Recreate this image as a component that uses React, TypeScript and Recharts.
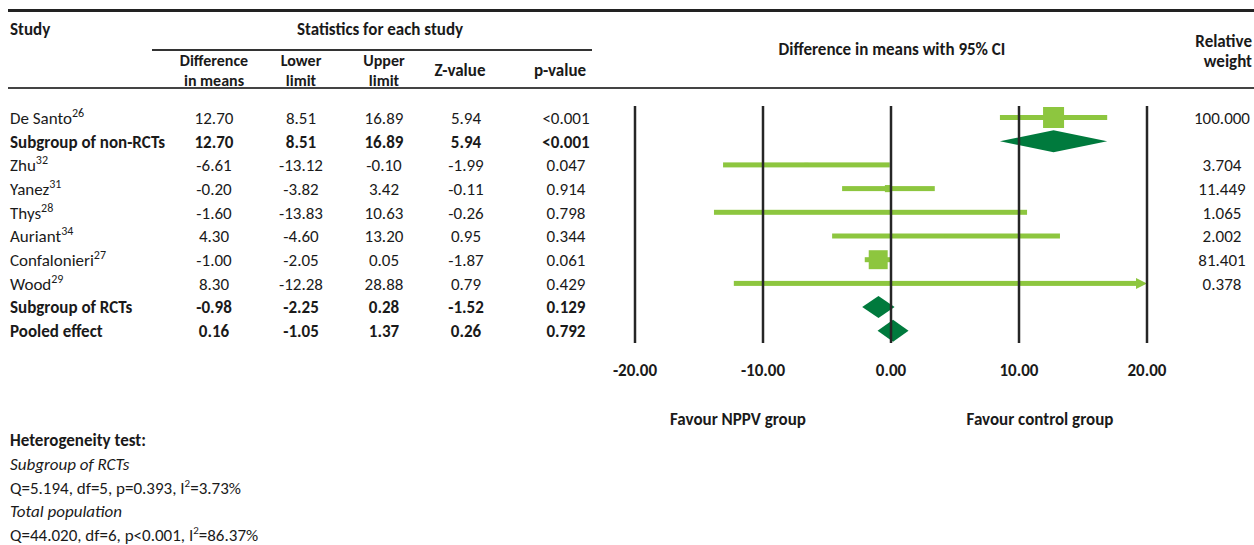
import { ComposedChart, Bar, XAxis, YAxis, ReferenceLine } from 'recharts'

const studies = ['De Santo', 'Subgroup of non-RCTs', 'Zhu', 'Yanez', 'Thys', 'Auriant', 'Confalonieri', 'Wood', 'Subgroup of RCTs', 'Pooled effect']
const refs = ['26', '', '32', '31', '28', '34', '27', '29', '', '']
const isSummary = [false, true, false, false, false, false, false, false, true, true]
const diffs = [12.7, 12.7, -6.61, -0.2, -1.6, 4.3, -1.0, 8.3, -0.98, 0.16]
const lowers = [8.51, 8.51, -13.12, -3.82, -13.83, -4.6, -2.05, -12.28, -2.25, -1.05]
const uppers = [16.89, 16.89, -0.1, 3.42, 10.63, 13.2, 0.05, 28.88, 0.28, 1.37]
const zValues = [5.94, 5.94, -1.99, -0.11, -0.26, 0.95, -1.87, 0.79, -1.52, 0.26]
const pValues = ['<0.001', '<0.001', '0.047', '0.914', '0.798', '0.344', '0.061', '0.429', '0.129', '0.792']
const weights = [100.0, null, 3.704, 11.449, 1.065, 2.002, 81.401, 0.378, null, null]

const xTicks = [-20, -10, 0, 10, 20]
const favourLabels = ['Favour NPPV group', 'Favour control group']

const hetTitle = 'Heterogeneity test:'
const hetGroups = ['Subgroup of RCTs', 'Total population']
const hetStats = [
  { q: '5.194', df: '5', p: 'p=0.393', i2: '3.73%' },
  { q: '44.020', df: '6', p: 'p<0.001', i2: '86.37%' },
]

const axisMin = xTicks[0]
const axisMax = xTicks[xTicks.length - 1]

const data = studies.map((name, i) => ({
  name,
  diff: diffs[i],
  summary: isSummary[i],
  weight: weights[i],
  clipped: uppers[i] > axisMax,
  range: [Math.max(lowers[i], axisMin), Math.min(uppers[i], axisMax)],
}))

const LIGHT = '#8dc63f'
const DARK = '#007a3d'
const INK = '#1a1a1a'
const FONT = "Carlito, Lato, 'Open Sans', sans-serif"
const FS = 17

const colCenters = [214, 301, 384, 466, 566]
const weightCenter = 1222

function ForestMark(props: any) {
  const { x, y, width, height, payload } = props
  const cy = y + height / 2
  const [lo, hi] = payload.range
  const px = x + ((payload.diff - lo) / (hi - lo)) * width
  if (payload.summary) {
    const h = 11
    return (
      <polygon
        points={`${x},${cy} ${px},${cy - h} ${x + width},${cy} ${px},${cy + h}`}
        fill={DARK}
      />
    )
  }
  // square area follows the relative weight
  const size = 21 * Math.sqrt((payload.weight || 0) / 100)
  const end = payload.clipped ? x + width - 11 : x + width
  return (
    <g>
      <rect x={x} y={cy - 2.5} width={end - x} height={5} fill={LIGHT} />
      {payload.clipped && (
        <polygon points={`${end},${cy - 5.5} ${x + width},${cy} ${end},${cy + 5.5}`} fill={LIGHT} />
      )}
      <rect x={px - size / 2} y={cy - size / 2} width={size} height={size} fill={LIGHT} />
    </g>
  )
}

function TableRow(props: any) {
  const { y, payload } = props
  const i = payload.index ?? studies.indexOf(payload.value)
  const bold = isSummary[i] ? 700 : 400
  const cells = [diffs[i].toFixed(2), lowers[i].toFixed(2), uppers[i].toFixed(2), zValues[i].toFixed(2), pValues[i]]
  return (
    <g fontSize={FS} fill={INK} fontWeight={bold}>
      <text x={10} y={y} dy="0.35em" textAnchor="start">
        <tspan>{studies[i]}</tspan>
        {refs[i] && (
          <tspan dy={-7} fontSize={12}>
            {refs[i]}
          </tspan>
        )}
      </text>
      {cells.map((c, k) => (
        <text key={k} x={colCenters[k]} y={y} dy="0.35em" textAnchor="middle">
          {c}
        </text>
      ))}
      {weights[i] != null && (
        <text x={weightCenter} y={y} dy="0.35em" textAnchor="middle">
          {weights[i]!.toFixed(3)}
        </text>
      )}
    </g>
  )
}

const abs = (left: number, top: number, extra: any = {}) => ({
  position: 'absolute' as const,
  left,
  top,
  whiteSpace: 'nowrap' as const,
  lineHeight: '17px',
  ...extra,
})

export default function App() {
  return (
    <div style={{ position: 'absolute', left: 0, top: 0, width: 1254, height: 545, background: '#fff', fontFamily: FONT, fontSize: FS, color: INK }}>
      {/* header rules */}
      <div style={{ position: 'absolute', left: 8, top: 9, width: 1246, height: 3, background: '#222' }} />
      <div style={{ position: 'absolute', left: 152, top: 49, width: 440, height: 1.5, background: '#333' }} />
      <div style={{ position: 'absolute', left: 8, top: 87, width: 1246, height: 2, background: '#444' }} />

      <div style={abs(10, 21, { fontWeight: 700 })}>Study</div>
      <div style={abs(230, 21, { fontWeight: 700, width: 300, textAlign: 'center' })}>Statistics for each study</div>
      {[
        ['Difference', 'in means'],
        ['Lower', 'limit'],
        ['Upper', 'limit'],
        ['Z-value'],
        ['p-value'],
      ].map((lines, k) => (
        <div
          key={k}
          style={abs(colCenters[k] - 60 - (k >= 3 ? 6 : 0), lines.length > 1 ? 51 : 62, {
            fontWeight: 700,
            width: 120,
            textAlign: 'center',
            fontSize: lines.length > 1 ? 16 : FS,
            lineHeight: lines.length > 1 ? '20px' : '17px',
          })}
        >
          {lines.map((l) => (
            <div key={l}>{l}</div>
          ))}
        </div>
      ))}
      <div style={abs(692, 41, { fontWeight: 700, width: 400, textAlign: 'center' })}>Difference in means with 95% CI</div>
      <div style={abs(1100, 32, { fontWeight: 700, width: 152, textAlign: 'right', lineHeight: '20px' })}>
        <div>Relative</div>
        <div>weight</div>
      </div>

      <div style={{ position: 'absolute', left: 0, top: 0 }}>
        <ComposedChart
          width={1254}
          height={545}
          data={data}
          layout="vertical"
          margin={{ top: 106, right: 107, bottom: 172, left: 0 }}
        >
          <XAxis
            type="number"
            domain={[axisMin, axisMax]}
            ticks={xTicks}
            interval={0}
            axisLine={false}
            tickLine={false}
            tickMargin={15}
            height={30}
            tickFormatter={(v: number) => v.toFixed(2)}
            tick={{ fontSize: FS, fontWeight: 700, fill: INK }}
          />
          <YAxis
            type="category"
            dataKey="name"
            width={635}
            interval={0}
            axisLine={false}
            tickLine={false}
            tick={<TableRow />}
          />
          <Bar dataKey="range" barSize={5} shape={<ForestMark />} isAnimationActive={false} />
          {xTicks.map((t) => (
            <ReferenceLine key={t} x={t} stroke="#262626" strokeWidth={2.5} />
          ))}
        </ComposedChart>
      </div>

      <div style={abs(588, 411, { fontWeight: 700, width: 300, textAlign: 'center' })}>{favourLabels[0]}</div>
      <div style={abs(890, 411, { fontWeight: 700, width: 300, textAlign: 'center' })}>{favourLabels[1]}</div>

      <div style={abs(10, 432, { fontWeight: 700 })}>{hetTitle}</div>
      {hetGroups.map((g, k) => (
        <div key={g}>
          <div style={abs(10, 456 + k * 47, { fontStyle: 'italic' })}>{g}</div>
          <div style={abs(10, 480 + k * 47)}>
            Q={hetStats[k].q}, df={hetStats[k].df}, {hetStats[k].p}, I<sup style={{ fontSize: 11, lineHeight: 0 }}>2</sup>={hetStats[k].i2}
          </div>
        </div>
      ))}
    </div>
  )
}
